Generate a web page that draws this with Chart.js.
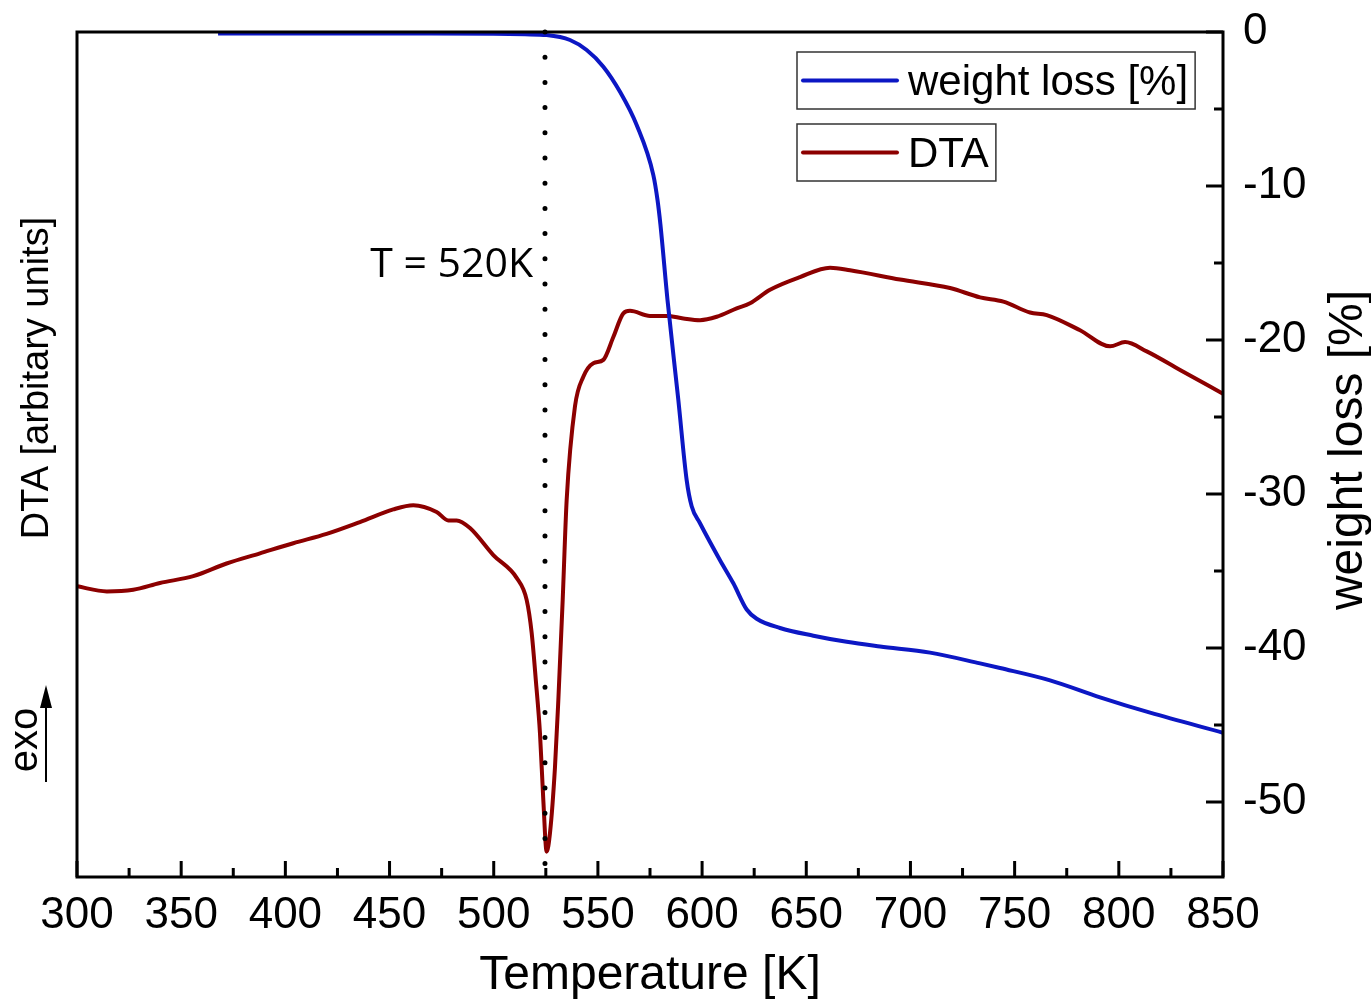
<!DOCTYPE html>
<html>
<head>
<meta charset="utf-8">
<script src="https://cdn.jsdelivr.net/npm/chart.js@4"></script>
<style>
  html, body { margin: 0; padding: 0; background: #fff; }
  #wrap { width: 1371px; height: 999px; position: relative; }
</style>
</head>
<body>
<div id="wrap"><canvas id="tgChart"></canvas></div>
<script>
const FONT = '"Liberation Sans", Arial, sans-serif';

// weight loss (TG), temperature [K] -> weight loss [%]
const wlTemp = [367.7, 420, 470, 500, 515, 525.4, 536.6, 544.6, 552.6, 560.6, 568.6, 576.6, 578.6, 580.0,
  583.4, 588.6, 592.6, 595.0, 599.0, 608.6, 615.0, 621.4, 626.2, 637.4, 653.4, 669.4, 685.4, 709.4,
  733.4, 743.0, 767.0, 791.0, 815.0, 850.0];
const wlValue = [-0.1, -0.1, -0.1, -0.12, -0.15, -0.2, -0.52, -1.17, -2.25, -3.88, -6.04, -9.29, -10.9, -12.5,
  -17.4, -23.9, -29.1, -30.8, -31.9, -34.3, -35.8, -37.5, -38.1, -38.7, -39.2, -39.6, -39.9, -40.3,
  -41.0, -41.3, -42.1, -43.2, -44.2, -45.5];

// DTA signal, arbitrary units (0..100 over the plot height)
const dtaTemp = [300.0, 314.3, 327.0, 339.8, 355.8, 371.8, 387.8, 403.8, 419.8, 435.8, 451.8, 461.4, 472.6,
  478.2, 482.2, 488.6, 499.8, 511.0, 515.8, 518.2, 520.3, 522.2, 523.8, 525.4, 527.0, 529.4, 531.0,
  533.1, 535.0, 539.0, 543.0, 547.8, 552.6, 557.4, 562.2, 565.4, 575.0, 583.0, 591.0, 599.0, 607.0,
  616.6, 623.0, 632.6, 647.0, 661.4, 671.0, 695.0, 719.0, 733.4, 744.6, 757.4, 765.4, 781.4, 795.8,
  803.0, 813.4, 829.4, 850.0];
const dtaValue = [34.4, 33.8, 34.0, 34.8, 35.6, 37.1, 38.3, 39.5, 40.6, 42.0, 43.5, 44.0, 43.2,
  42.2, 42.2, 41.3, 38.1, 35.4, 32.8, 28.9, 23.0, 17.0, 9.1, 3.0, 5.2, 13.0, 20.9,
  32.8, 44.6, 55.7, 59.2, 60.8, 61.2, 63.9, 66.7, 67.0, 66.4, 66.4, 66.1, 65.9, 66.3,
  67.3, 67.9, 69.5, 71.0, 72.1, 71.8, 70.7, 69.7, 68.6, 68.1, 66.8, 66.5, 64.7, 62.8,
  63.3, 62.2, 60.0, 57.2];

const xTicks = [300, 350, 400, 450, 500, 550, 600, 650, 700, 750, 800, 850];
const yTicks = [0, -10, -20, -30, -40, -50];
const wlMin = -54.87;
const markerT = 524.6;
const markerLabel = 'T = 520K';

const BLUE = '#0c17c4';
const RED = '#8c0000';

const toPoints = (xs, ys) => xs.map((x, i) => ({x: x, y: ys[i]}));

const decor = {
  id: 'decor',
  afterDraw(chart) {
    const {ctx, chartArea: a, scales} = chart;
    const xs = scales.x, ys = scales.y1;
    ctx.save();

    // frame + inward ticks
    ctx.strokeStyle = '#000';
    ctx.lineWidth = 3;
    ctx.strokeRect(a.left, a.top, a.right - a.left, a.bottom - a.top);
    ctx.beginPath();
    xTicks.forEach((v, i) => {
      const px = xs.getPixelForValue(v);
      ctx.moveTo(px, a.bottom); ctx.lineTo(px, a.bottom - 16);
      if (i < xTicks.length - 1) {
        const pm = xs.getPixelForValue((v + xTicks[i + 1]) / 2);
        ctx.moveTo(pm, a.bottom); ctx.lineTo(pm, a.bottom - 9);
      }
    });
    yTicks.forEach(v => {
      const py = ys.getPixelForValue(v);
      ctx.moveTo(a.right, py); ctx.lineTo(a.right - 17, py);
      if (v - 5 >= wlMin) {
        const pm = ys.getPixelForValue(v - 5);
        ctx.moveTo(a.right, pm); ctx.lineTo(a.right - 9, pm);
      }
    });
    ctx.stroke();

    ctx.fillStyle = '#000';
    ctx.textBaseline = 'alphabetic';

    // x title
    ctx.font = '48px ' + FONT;
    ctx.textAlign = 'center';
    ctx.fillText('Temperature [K]', (a.left + a.right) / 2, a.bottom + 112);

    // right title (reads bottom to top)
    ctx.save();
    ctx.translate(1362, 450);
    ctx.rotate(-Math.PI / 2);
    ctx.fillText('weight loss [%]', 0, 0);
    ctx.restore();

    // left title
    ctx.save();
    ctx.font = '38px ' + FONT;
    ctx.translate(48, 378);
    ctx.rotate(-Math.PI / 2);
    ctx.fillText('DTA [arbitary units]', 0, 0);
    ctx.restore();

    // exo arrow
    ctx.save();
    ctx.font = '40px ' + FONT;
    ctx.translate(37, 740);
    ctx.rotate(-Math.PI / 2);
    ctx.fillText('exo', 0, 0);
    ctx.restore();
    ctx.lineWidth = 2;
    ctx.beginPath();
    ctx.moveTo(46, 782); ctx.lineTo(46, 700);
    ctx.stroke();
    ctx.beginPath();
    ctx.moveTo(46, 685); ctx.lineTo(40, 708); ctx.lineTo(52, 708); ctx.closePath();
    ctx.fill();

    // marker label
    ctx.font = '41px "Open Sans", ' + FONT;
    ctx.textAlign = 'right';
    ctx.fillText(markerLabel, xs.getPixelForValue(markerT) - 12, 277);

    // legend: one framed box per series
    ctx.font = '42px ' + FONT;
    ctx.textAlign = 'left';
    const items = chart.data.datasets.filter(d => d.label);
    items.forEach((d, i) => {
      const tw = ctx.measureText(d.label).width;
      const bx = a.left + 720, by = a.top + 20 + i * 72;
      const bw = 111 + tw + 7, bh = 57;
      ctx.lineWidth = 1.5;
      ctx.strokeStyle = '#333';
      ctx.strokeRect(bx, by, bw, bh);
      ctx.strokeStyle = d.borderColor;
      ctx.lineWidth = 4;
      ctx.lineCap = 'round';
      ctx.beginPath();
      ctx.moveTo(bx + 6, by + 28.5); ctx.lineTo(bx + 100, by + 28.5);
      ctx.stroke();
      ctx.lineCap = 'butt';
      ctx.fillStyle = '#000';
      ctx.fillText(d.label, bx + 111, by + 43);
    });

    ctx.restore();
  }
};

const tgChart = new Chart(document.getElementById('tgChart').getContext('2d'), {
  type: 'line',
  data: {
    datasets: [
      {
        data: [{x: markerT, y: 0}, {x: markerT, y: wlMin}],
        yAxisID: 'y1',
        borderColor: '#000',
        borderWidth: 5,
        borderDash: [0, 25.2],
        borderCapStyle: 'round',
        pointRadius: 0,
        clip: 4
      },
      {
        label: 'weight loss [%]',
        data: toPoints(wlTemp, wlValue),
        yAxisID: 'y1',
        borderColor: BLUE,
        borderWidth: 4,
        pointRadius: 0,
        cubicInterpolationMode: 'monotone'
      },
      {
        label: 'DTA',
        data: toPoints(dtaTemp, dtaValue),
        yAxisID: 'y',
        borderColor: RED,
        borderWidth: 4,
        pointRadius: 0,
        cubicInterpolationMode: 'monotone'
      }
    ]
  },
  options: {
    responsive: true,
    maintainAspectRatio: false,
    animation: false,
    layout: {padding: {left: 77, top: 32, right: 0, bottom: 0}},
    plugins: {legend: {display: false}, tooltip: {enabled: false}},
    scales: {
      x: {
        type: 'linear', min: 300, max: 850,
        grid: {display: false}, border: {display: false},
        afterBuildTicks: s => { s.ticks = xTicks.map(v => ({value: v})); },
        afterFit: s => { s.height = 122; s.paddingLeft = 0; s.paddingRight = 0; },
        ticks: {autoSkip: false, maxRotation: 0, padding: 4, color: '#000', font: {family: FONT, size: 44}}
      },
      y: {display: false, min: 0, max: 100},
      y1: {
        position: 'right', min: wlMin, max: 0,
        grid: {display: false}, border: {display: false},
        afterBuildTicks: s => { s.ticks = yTicks.map(v => ({value: v})); },
        afterFit: s => { s.width = 148; s.paddingTop = 0; s.paddingBottom = 0; },
        ticks: {padding: 12, color: '#000', font: {family: FONT, size: 44}}
      }
    }
  },
  plugins: [decor]
});
</script>
</body>
</html>
